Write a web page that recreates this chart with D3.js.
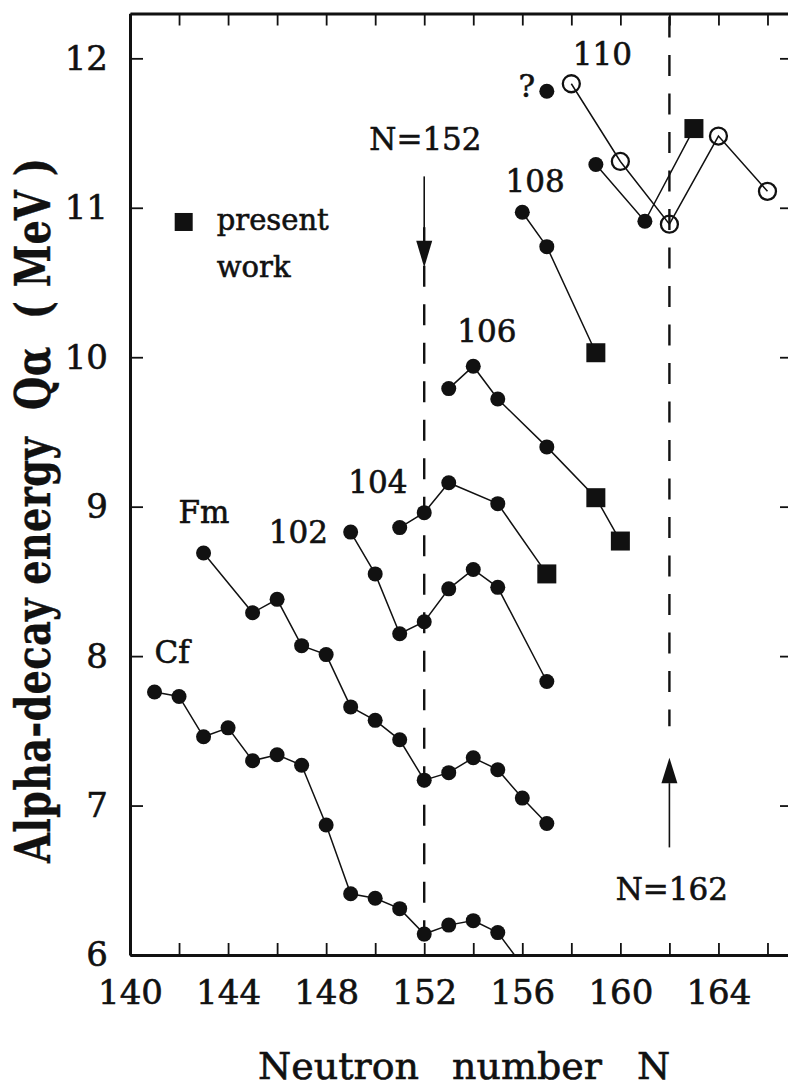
<!DOCTYPE html>
<html>
<head>
<meta charset="utf-8">
<script src="https://cdn.jsdelivr.net/npm/d3@7"></script>
<style>
  html, body { margin: 0; padding: 0; background: #fff; }
  svg { display: block; }
  text { font-family: "DejaVu Serif", serif; fill: #111; stroke: #111; stroke-width: 0.6px; }
</style>
</head>
<body>
<svg id="chart" width="788" height="1088"></svg>
<script>
// Alpha-decay energies Q_alpha (MeV) against neutron number N, one chain per element.
// Marker codes: "c" = known value (filled circle), "s" = present work (filled square),
// "o" = calculated value (open circle).
const cfN = [141, 142, 143, 144, 145, 146, 147, 148, 149, 150, 151, 152, 153, 154, 155, 156];
const cfQ = [7.76, 7.73, 7.46, 7.52, 7.30, 7.34, 7.27, 6.87, 6.41, 6.38, 6.31, 6.14, 6.20, 6.23, 6.15, 5.93];

const fmN = [143, 145, 146, 147, 148, 149, 150, 151, 152, 153, 154, 155, 156, 157];
const fmQ = [8.69, 8.29, 8.38, 8.07, 8.01, 7.66, 7.57, 7.44, 7.17, 7.22, 7.32, 7.24, 7.05, 6.88];

const z102N = [149, 150, 151, 152, 153, 154, 155, 157];
const z102Q = [8.83, 8.55, 8.15, 8.23, 8.45, 8.58, 8.46, 7.83];

const z104N = [151, 152, 153, 155, 157];
const z104Q = [8.86, 8.96, 9.16, 9.02, 8.55];
const z104Mark = ["c", "c", "c", "c", "s"];

const z106N = [153, 154, 155, 157, 159, 160];
const z106Q = [9.79, 9.94, 9.72, 9.40, 9.06, 8.77];
const z106Mark = ["c", "c", "c", "c", "s", "s"];

const z108N = [156, 157, 159];
const z108Q = [10.97, 10.74, 10.03];
const z108Mark = ["c", "c", "s"];

const z110N = [159, 161, 163];
const z110Q = [11.29, 10.91, 11.53];
const z110Mark = ["c", "c", "s"];

const z110CalcN = [158, 160, 162, 164, 166];
const z110CalcQ = [11.83, 11.31, 10.89, 11.48, 11.11];

const uncertainN = [157];
const uncertainQ = [11.78];

const xTicks = [140, 142, 144, 146, 148, 150, 152, 154, 156, 158, 160, 162, 164, 166];
const xTickLabels = ["140", "", "144", "", "148", "", "152", "", "156", "", "160", "", "164", ""];
const yTicks = [6, 7, 8, 9, 10, 11, 12];
const shellN = [152, 162];

// ---- scales ----
const svg = d3.select("#chart");
const x = d3.scaleLinear().domain([140, 167]).range([130, 792]);
const y = d3.scaleLinear().domain([6, 12.3]).range([955, 13.5]);

const ink = "#111";

svg.append("defs").append("clipPath").attr("id", "plotClip")
  .append("rect")
  .attr("x", x(140)).attr("y", y(12.3))
  .attr("width", x(167) - x(140)).attr("height", y(6) - y(12.3));

// ---- axes (ticks point inward on all four sides) ----
function styleAxis(g, fontSize) {
  g.attr("font-family", null).attr("font-size", fontSize);
  g.select(".domain").attr("stroke", ink).attr("stroke-width", 3);
  g.selectAll(".tick line").attr("stroke", ink).attr("stroke-width", 1.8);
  g.selectAll(".tick text").attr("fill", ink);
}

const labelFor = d3.scaleOrdinal().domain(xTicks).range(xTickLabels);

svg.append("g")
  .attr("transform", `translate(0,${y(6)})`)
  .call(d3.axisBottom(x).tickValues(xTicks).tickSizeInner(-12).tickSizeOuter(0)
    .tickPadding(25).tickFormat(d => labelFor(d)))
  .call(g => styleAxis(g, 34));

svg.append("g")
  .attr("transform", `translate(0,${y(12.3)})`)
  .call(d3.axisTop(x).tickValues(xTicks).tickSizeInner(-12).tickSizeOuter(0).tickFormat(""))
  .call(g => styleAxis(g, 34));

svg.append("g")
  .attr("transform", `translate(${x(140)},0)`)
  .call(d3.axisLeft(y).tickValues(yTicks).tickSizeInner(-13).tickSizeOuter(0)
    .tickPadding(22).tickFormat(d3.format("d")))
  .call(g => styleAxis(g, 34));

svg.append("g")
  .attr("transform", `translate(${x(167)},0)`)
  .call(d3.axisRight(y).tickValues(yTicks).tickSizeInner(-12).tickSizeOuter(0).tickFormat(""))
  .call(g => styleAxis(g, 34));

// ---- shell-closure guides ----
const guides = svg.append("g").attr("stroke", ink).attr("stroke-width", 2.4)
  .attr("stroke-dasharray", "21,17.5").attr("fill", "none");
guides.append("line")
  .attr("x1", x(shellN[0])).attr("x2", x(shellN[0]))
  .attr("y1", y(10.87)).attr("y2", y(6));
guides.append("line")
  .attr("x1", x(shellN[1])).attr("x2", x(shellN[1]))
  .attr("y1", y(12.28)).attr("y2", y(7.53));

function arrow(n, qFrom, qTip, qHeadBase) {
  const g = svg.append("g");
  g.append("line")
    .attr("x1", x(n)).attr("x2", x(n))
    .attr("y1", y(qFrom)).attr("y2", y(qHeadBase))
    .attr("stroke", ink).attr("stroke-width", 1.6);
  const tipY = y(qTip), baseY = y(qHeadBase), cx = x(n);
  g.append("path")
    .attr("d", `M${cx - 8},${baseY} L${cx + 8},${baseY} L${cx},${tipY} Z`)
    .attr("fill", ink);
}
arrow(shellN[0], 11.21, 10.60, 10.78);
arrow(shellN[1], 6.72, 7.32, 7.15);

// ---- data chains ----
const plot = svg.append("g").attr("clip-path", "url(#plotClip)");
const line = d3.line().x(d => x(d.n)).y(d => y(d.q));

function chain(ns, qs, marks) {
  const pts = ns.map((n, i) => ({ n, q: qs[i], m: marks ? marks[i] : "c" }));
  plot.append("path").datum(pts)
    .attr("d", line)
    .attr("fill", "none").attr("stroke", ink).attr("stroke-width", 1.5);
  pts.forEach(p => {
    if (p.m === "c") {
      plot.append("circle").attr("cx", x(p.n)).attr("cy", y(p.q)).attr("r", 7.5).attr("fill", ink);
    } else if (p.m === "s") {
      plot.append("rect").attr("x", x(p.n) - 9.5).attr("y", y(p.q) - 9.5)
        .attr("width", 19).attr("height", 19).attr("fill", ink);
    } else {
      plot.append("circle").attr("cx", x(p.n)).attr("cy", y(p.q)).attr("r", 8.5)
        .attr("fill", "none").attr("stroke", ink).attr("stroke-width", 2.3);
    }
  });
}

chain(cfN, cfQ);
chain(fmN, fmQ);
chain(z102N, z102Q);
chain(z104N, z104Q, z104Mark);
chain(z106N, z106Q, z106Mark);
chain(z108N, z108Q, z108Mark);
chain(z110CalcN, z110CalcQ, z110CalcN.map(() => "o"));
chain(z110N, z110Q, z110Mark);
uncertainN.forEach((n, i) => {
  plot.append("circle").attr("cx", x(n)).attr("cy", y(uncertainQ[i])).attr("r", 7.5).attr("fill", ink);
});

// ---- chain labels ----
const labels = svg.append("g").attr("font-size", 31);
function label(txt, n, q, anchor) {
  labels.append("text").attr("x", x(n)).attr("y", y(q))
    .attr("text-anchor", anchor || "start").text(txt);
}
label("Cf", 141.0, 7.954);
label("Fm", 141.98, 8.891);
label("102", 145.66, 8.757);
label("104", 148.9, 9.091);
label("106", 153.35, 10.102);
label("108", 155.32, 11.105);
label("110", 158.06, 11.955);
label("?", 155.85, 11.741);
label("N=152", 152.05, 11.386, "middle");
label("N=162", 162.1, 6.368, "middle");

// ---- legend ----
svg.append("rect")
  .attr("x", x(142.19) - 9).attr("y", y(10.905) - 9)
  .attr("width", 18).attr("height", 18).attr("fill", ink);
svg.append("text").attr("x", x(143.54)).attr("y", y(10.85))
  .attr("font-size", 29).text("present");
svg.append("text").attr("x", x(143.54)).attr("y", y(10.536))
  .attr("font-size", 29).text("work");

// ---- axis titles ----
const xt = svg.append("text").attr("y", 1079).attr("font-size", 38);
xt.append("tspan").attr("x", 258).text("Neutron");
xt.append("tspan").attr("x", 452).text("number");
xt.append("tspan").attr("x", 637).text("N");

svg.append("text")
  .attr("transform", "translate(50,510.5) rotate(-90) scale(0.8,1)")
  .attr("text-anchor", "middle")
  .attr("font-weight", "bold")
  .attr("font-size", 48)
  .style("white-space", "pre")
  .style("stroke-width", "0.4px")
  .attr("textLength", 881)
  .attr("lengthAdjust", "spacing")
  .text("Alpha-decay energy  Q\u03B1  ( MeV )");
</script>
</body>
</html>
